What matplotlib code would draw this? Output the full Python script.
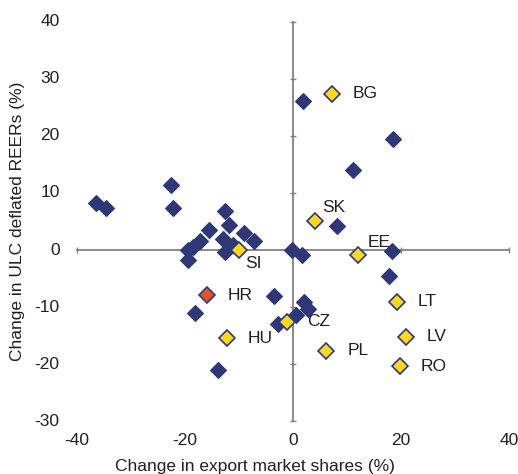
import matplotlib.pyplot as plt
from matplotlib.transforms import blended_transform_factory

plt.rcParams['font.family'] = ['Liberation Sans', 'DejaVu Sans']

# other countries (dark blue)
other_x = [-36.5, -34.6, -22.6, -22.2, -12.6, -11.8, -15.6, -9.0, -7.3, -12.9,
           -17.2, -18.5, -19.5, -19.5, -12.6, -11.1, -0.2, 1.6, 1.8, 18.6,
           11.1, 8.1, 18.3, 17.7, -3.5, -18.1, -13.8, -2.7, 0.6, 2.0, 2.8]
other_y = [8.2, 7.4, 11.4, 7.4, 6.9, 4.4, 3.5, 2.9, 1.6, 1.9,
           1.6, 0.6, 0.0, -1.8, -0.3, 0.9, 0.0, -0.8, 26.2, 19.4,
           14.0, 4.2, -0.2, -4.6, -8.1, -11.0, -21.1, -12.9, -11.4, -9.1, -10.4]

# new member states (yellow)
nms_labels = ['BG', 'SK', 'EE', 'SI', 'HU', 'CZ', 'LT', 'LV', 'PL', 'RO']
nms_x = [7.2, 4.1, 12.1, -10.0, -12.3, -1.2, 19.2, 21.0, 6.2, 19.8]
nms_y = [27.4, 5.1, -0.8, 0.0, -15.5, -12.6, -9.1, -15.2, -17.7, -20.4]

# Croatia
hr_label = 'HR'
hr_x = [-16.0]
hr_y = [-7.9]

xticks = [-40, -20, 0, 20, 40]
yticks = [-30, -20, -10, 0, 10, 20, 30, 40]

blue = '#2f3877'
yellow = '#fdd820'
orange = '#e8522a'
grey = '#808080'
txt = '#231f20'

fig = plt.figure(figsize=(5.18, 4.74), dpi=100)
ax = fig.add_axes([0.1486, 0.1118, 0.834, 0.8418])

ms = 8.6
ax.plot(other_x, other_y, 'D', color=blue, markersize=ms, markeredgecolor=blue,
        markeredgewidth=0.8, zorder=3, clip_on=False)
ax.plot(nms_x, nms_y, 'D', color=yellow, markersize=ms, markeredgecolor=blue,
        markeredgewidth=1.2, zorder=4, clip_on=False)
ax.plot(hr_x, hr_y, 'D', color=orange, markersize=ms, markeredgecolor=blue,
        markeredgewidth=1.2, zorder=4, clip_on=False)

# label offsets in pixels
offsets = {'BG': (21, 0), 'SK': (7, 13), 'EE': (9, 12), 'SI': (6, -13),
           'HU': (21, 0), 'CZ': (21, 0), 'LT': (21, 0), 'LV': (20, 0),
           'PL': (21, 0), 'RO': (21, 0), 'HR': (21, 0)}
for lab, x, y in zip(nms_labels + [hr_label], nms_x + hr_x, nms_y + hr_y):
    ax.annotate(lab, (x, y), xytext=offsets[lab], textcoords='offset pixels',
                ha='left', va='center', fontsize=12.5, color=txt, zorder=5)

ax.set_xlim(-40, 40)
ax.set_ylim(-30, 40)
for s in ['top', 'right']:
    ax.spines[s].set_visible(False)
ax.spines['left'].set_position(('data', 0))
ax.spines['bottom'].set_position(('data', 0))
for s in ['left', 'bottom']:
    ax.spines[s].set_color(grey)
    ax.spines[s].set_linewidth(1.3)
ax.set_xticks(xticks)
ax.set_yticks(yticks)
ax.tick_params(direction='inout', length=5, width=1, color=grey,
               labelleft=False, labelbottom=False)

# tick labels sit at the outer edges of the plot
tx = blended_transform_factory(ax.transData, ax.transAxes)
ty = blended_transform_factory(ax.transAxes, ax.transData)
for v in xticks:
    ax.text(v, -0.03, str(v), transform=tx, ha='center', va='top',
            fontsize=12.5, color=txt)
for v in yticks:
    ax.text(-0.04, v, str(v), transform=ty, ha='right', va='center',
            fontsize=12.5, color=txt)

ax.text(0.412, -0.113, 'Change in export market shares (%)', transform=ax.transAxes,
        ha='center', va='center', fontsize=12.5, color=txt)
ax.text(-0.137, 0.5, 'Change in ULC deflated REERs (%)', transform=ax.transAxes,
        ha='center', va='center', rotation=90, fontsize=12.5, color=txt)

fig.savefig('out.png', dpi=100)
